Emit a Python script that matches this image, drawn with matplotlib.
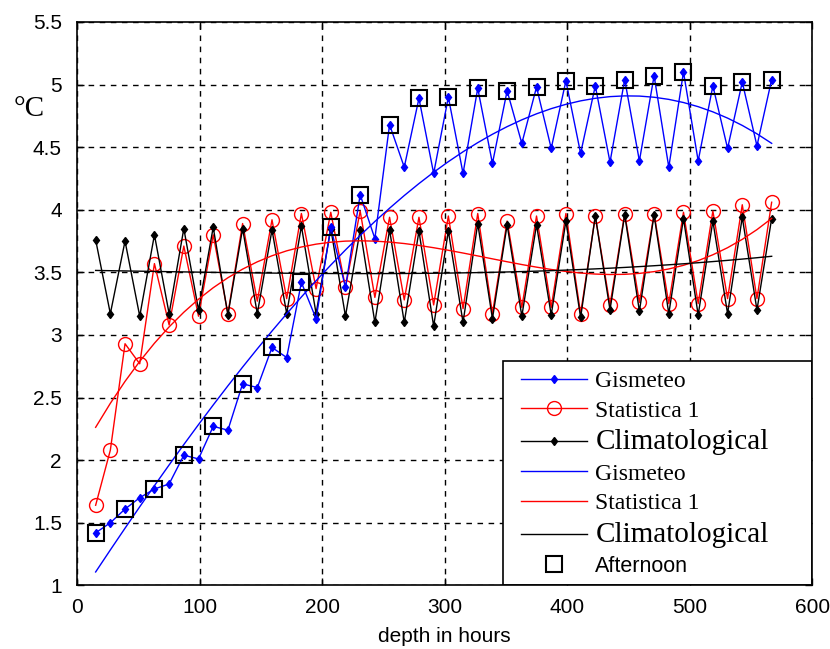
import numpy as np
import matplotlib
matplotlib.use("Agg")
import matplotlib.pyplot as plt
from matplotlib.patches import Rectangle

# ---- data ----
hours = list(range(15, 568, 12))  # 47 forecast depths
gismeteo = [1.42, 1.50, 1.61, 1.70, 1.77, 1.81, 2.04, 2.01, 2.27, 2.24,
            2.61, 2.58, 2.90, 2.82, 3.42, 3.13, 3.86, 3.38, 4.12, 3.77,
            4.68, 4.34, 4.89, 4.29, 4.90, 4.29, 4.97, 4.37, 4.95, 4.53,
            4.98, 4.49, 5.03, 4.45, 4.99, 4.38, 5.04, 4.39, 5.07, 4.34,
            5.10, 4.39, 4.99, 4.49, 5.02, 4.51, 5.04]
statistica = [1.64, 2.08, 2.93, 2.77, 3.57, 3.08, 3.71, 3.15, 3.80, 3.17,
              3.89, 3.27, 3.92, 3.29, 3.97, 3.37, 3.98, 3.38, 3.99, 3.30,
              3.94, 3.28, 3.94, 3.24, 3.95, 3.21, 3.97, 3.17, 3.91, 3.22,
              3.95, 3.22, 3.97, 3.17, 3.95, 3.24, 3.97, 3.26, 3.97, 3.25,
              3.98, 3.25, 3.99, 3.29, 4.04, 3.29, 4.06]
climat = [3.76, 3.17, 3.75, 3.15, 3.80, 3.17, 3.85, 3.20, 3.86, 3.16,
          3.85, 3.17, 3.84, 3.17, 3.87, 3.17, 3.85, 3.15, 3.84, 3.10,
          3.84, 3.10, 3.83, 3.07, 3.83, 3.10, 3.89, 3.13, 3.88, 3.15,
          3.88, 3.16, 3.91, 3.14, 3.95, 3.20, 3.96, 3.19, 3.96, 3.17,
          3.93, 3.16, 3.91, 3.17, 3.94, 3.20, 3.93]
fit_degree = 3
xticks = [0, 100, 200, 300, 400, 500, 600]
yticks = [1, 1.5, 2, 2.5, 3, 3.5, 4, 4.5, 5, 5.5]
ytick_labels = ["1", "1.5", "2", "2.5", "3", "3.5", "4", "4.5", "5", "5.5"]

x = np.array(hours, dtype=float)
g = np.array(gismeteo)
s = np.array(statistica)
c = np.array(climat)

def trend(y):
    p = np.polyfit(x, y, fit_degree)
    return np.polyval(p, x)

fig = plt.figure(figsize=(8.3, 6.49), dpi=100)
ax = fig.add_axes([0.0931, 0.0980, 0.8853, 0.8682])

ax.plot(x, g, '-', color='blue', lw=1.0, marker='d', ms=4.5, mfc='blue', mec='blue',
        label='Gismeteo', zorder=3)
ax.plot(x, s, '-', color='red', lw=1.0, marker='o', ms=10, mfc='none', mec='red',
        mew=1.0, label='Statistica 1', zorder=2)
ax.plot(x, c, '-', color='black', lw=1.0, marker='d', ms=4.5, mfc='black', mec='black',
        label='Climatological', zorder=2.5)
ax.plot(x, trend(g), '-', color='blue', lw=1.0, label='Gismeteo', zorder=3)
ax.plot(x, trend(s), '-', color='red', lw=1.0, label='Statistica 1', zorder=3)
ax.plot(x, trend(c), '-', color='black', lw=1.0, label='Climatological', zorder=3)
ax.plot(x[::2], g[::2], 's', ms=11, mfc='none', mec='black', mew=1.5,
        label='Afternoon', zorder=4)

ax.set_xlim(0, 600)
ax.set_ylim(1, 5.5)
ax.set_xticks(xticks)
ax.set_yticks(yticks)
ax.set_yticklabels(ytick_labels)
ax.grid(True, color='black', linestyle=(0, (4, 4)), linewidth=1.0)
ax.tick_params(direction='in', length=5, top=True, right=True, labelsize=15,
               width=1.0)
ax.tick_params(axis='x', pad=9)
ax.tick_params(axis='y', pad=11)
for lab in ax.get_xticklabels() + ax.get_yticklabels():
    lab.set_fontfamily('Liberation Sans')
for sp in ax.spines.values():
    sp.set_linewidth(1.2)
    sp.set_zorder(7)

ax.set_xlabel('depth in hours', fontsize=15, family='Liberation Sans', labelpad=7)
fig.text(0.016, 0.822, '°C', fontsize=21, family='Liberation Serif')

# legend frame (MATLAB style, extra space on the right)
frame = Rectangle((0.5793, 0.0), 0.4207, 0.398, transform=ax.transAxes,
                  facecolor='white', edgecolor='black', lw=1.2, zorder=5)
ax.add_patch(frame)

leg = ax.legend(loc='upper left', bbox_to_anchor=(0.6038, 0.381), fontsize=17,
                frameon=False, handlelength=2.8, handletextpad=0.35,
                labelspacing=0.33, borderpad=0.0, borderaxespad=0.0)
leg.set_zorder(6)
fams = ['Liberation Serif'] * 6 + ['Liberation Sans']
sizes = [17, 17, 21, 17, 17, 21, 15.5]
for t, f, z in zip(leg.get_texts(), fams, sizes):
    t.set_fontfamily(f)
    t.set_fontsize(z)

fig.savefig('out.png', dpi=100)
